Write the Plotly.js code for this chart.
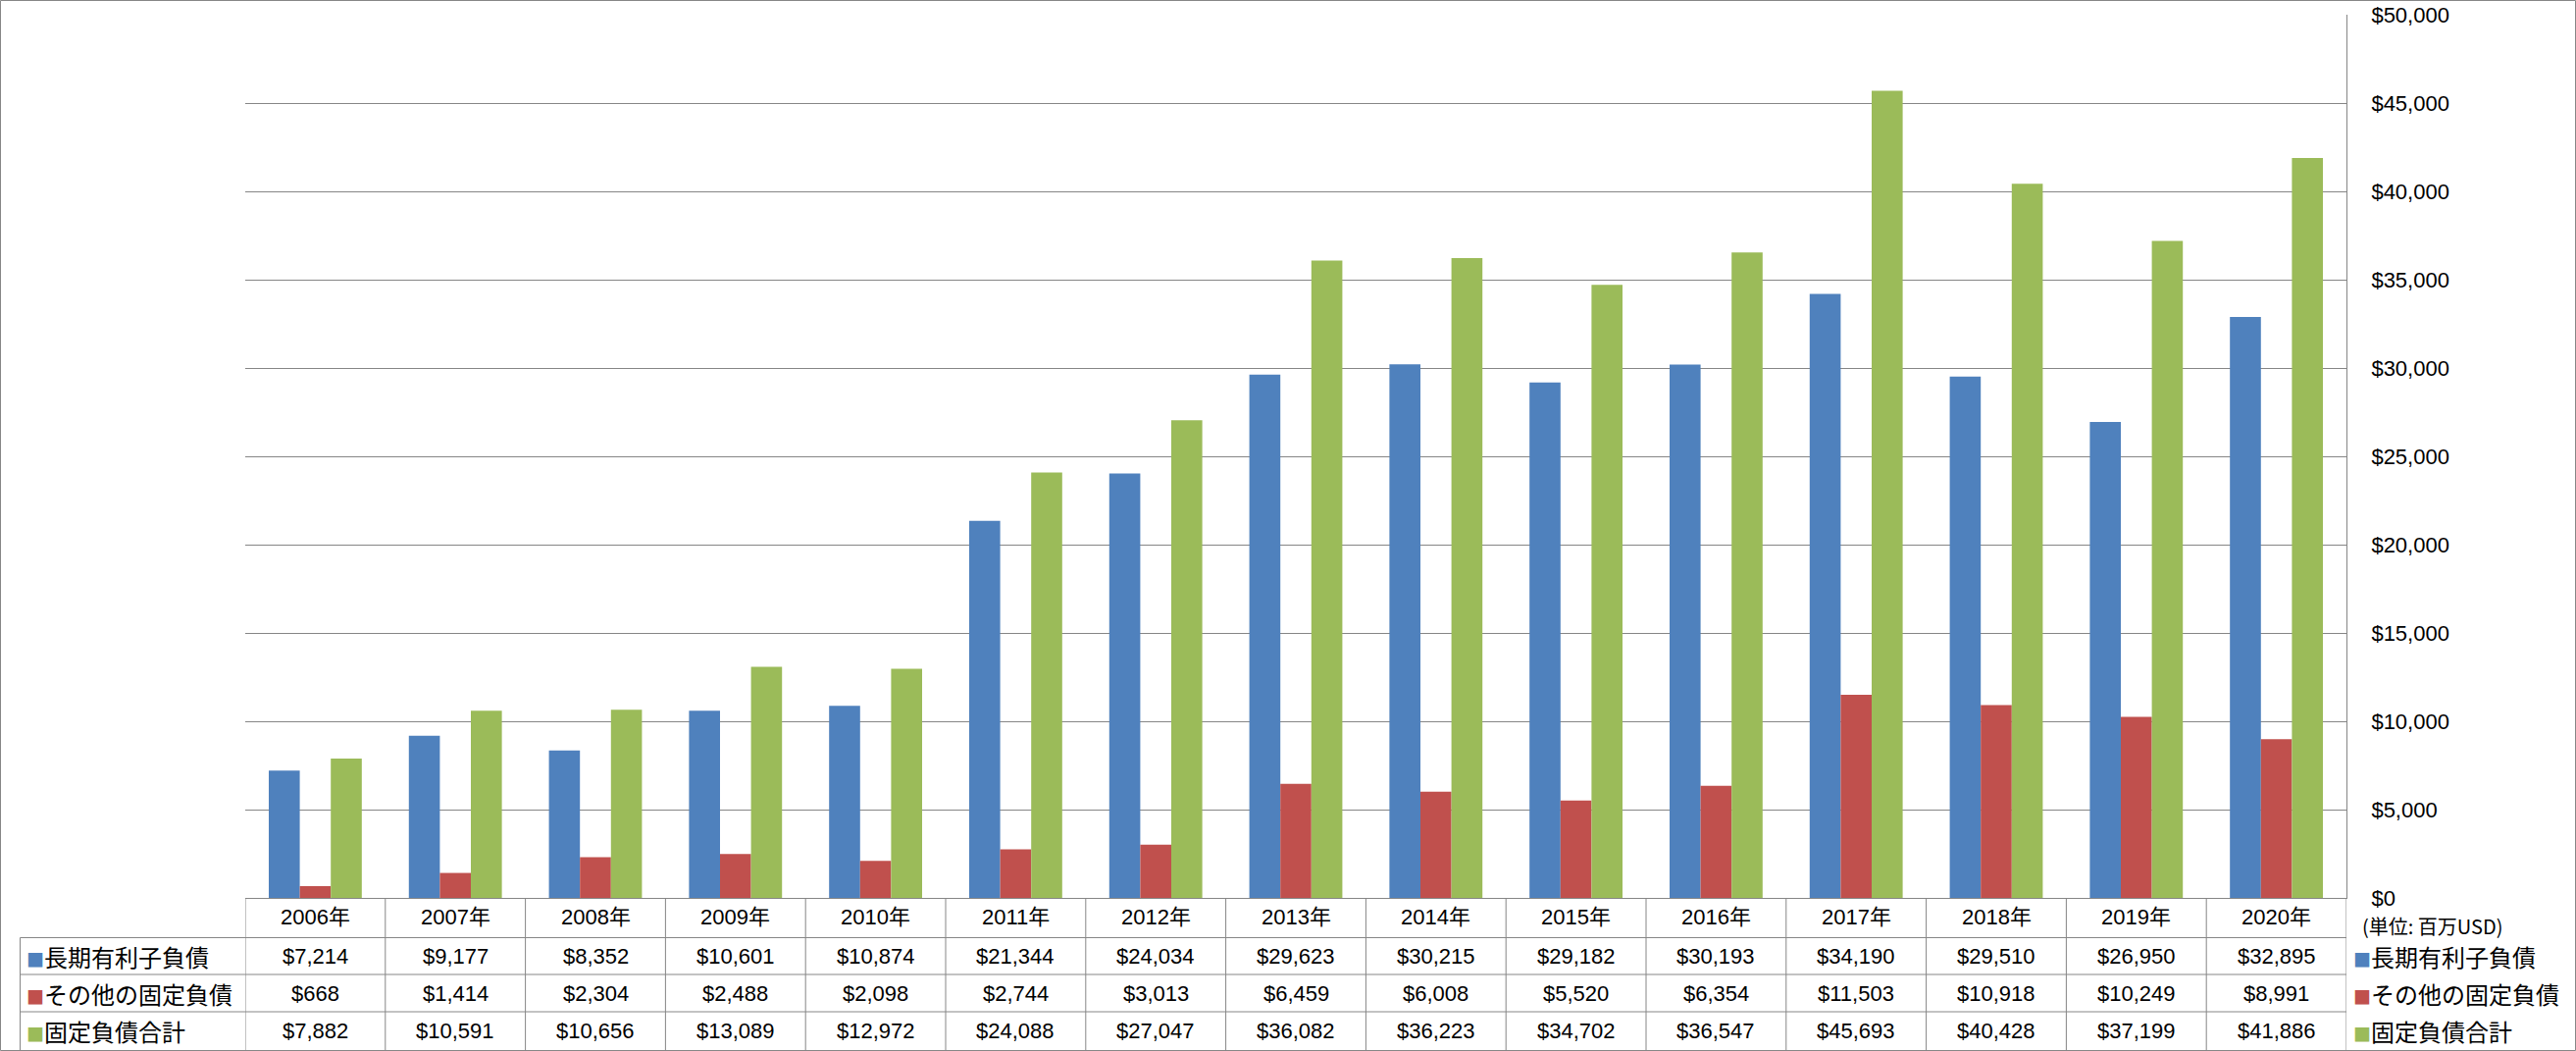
<!DOCTYPE html>
<html><head><meta charset="utf-8">
<script src="https://cdn.plot.ly/plotly-3.0.1.min.js"></script>
<style>html,body{margin:0;padding:0;background:#fff}</style>
</head><body><div id="chart" style="width:2626px;height:1071px"></div>
<script>
const years = ['2006年','2007年','2008年','2009年','2010年','2011年','2012年','2013年','2014年','2015年','2016年','2017年','2018年','2019年','2020年'];
const seriesNames = ['長期有利子負債','その他の固定負債','固定負債合計'];
const longTermDebt = [7214,9177,8352,10601,10874,21344,24034,29623,30215,29182,30193,34190,29510,26950,32895];
const otherFixed = [668,1414,2304,2488,2098,2744,3013,6459,6008,5520,6354,11503,10918,10249,8991];
const totalFixed = [7882,10591,10656,13089,12972,24088,27047,36082,36223,34702,36547,45693,40428,37199,41886];
const yTickVals = [0,5000,10000,15000,20000,25000,30000,35000,40000,45000,50000];
const unitLabel = '(単位: 百万USD)';

const colors = ['#4F81BD','#C0504D','#9BBB59'];
const series = [longTermDebt, otherFixed, totalFixed];
const W = 2626, H = 1071, L = 250, R = 234, T = 15, B = 156;
const PW = W - L - R, PH = H - T - B;
const px = x => (x - L) / PW;
const py = y => (H - B - y) / PH;
const gridCol = '#868686';
const numFont = "'Liberation Sans', 'Noto Sans CJK JP', sans-serif";
const jpFont = "'Noto Sans CJK JP', sans-serif";

const traces = series.map((vals, i) => ({
  type: 'bar', name: seriesNames[i], x: years, y: vals,
  marker: {color: colors[i], line: {width: 0}}, showlegend: false, hoverinfo: 'x+y'
}));

const shapes = [];
const annotations = [];
const lineStyle = {color: gridCol, width: 1};
// outer border
shapes.push({type: 'rect', xref: 'paper', yref: 'paper', x0: px(0.5), x1: px(W - 0.5), y0: py(0.5), y1: py(H - 0.5), line: lineStyle});
// table verticals at category boundaries
for (let i = 0; i <= years.length; i++) {
  shapes.push({type: 'line', xref: 'x', yref: 'paper', x0: i - 0.5, x1: i - 0.5, y0: 0, y1: py(H - 0.5), line: lineStyle});
}
// table left vertical
shapes.push({type: 'line', xref: 'paper', yref: 'paper', x0: px(20.5), x1: px(20.5), y0: py(955.5), y1: py(H - 0.5), line: lineStyle});
// horizontal row lines
[955.5, 993, 1031].forEach(yy => {
  shapes.push({type: 'line', xref: 'paper', yref: 'paper', x0: px(20.5), x1: 1, y0: py(yy), y1: py(yy), line: lineStyle});
});

const rowCenters = [974, 1012, 1050.5];
series.forEach((vals, s) => {
  annotations.push({xref: 'paper', yref: 'paper', x: px(25), y: py(rowCenters[s]), xanchor: 'left', yanchor: 'middle', showarrow: false,
    text: `<span style="color:${colors[s]};font-size:18px">■</span>${seriesNames[s]}`, font: {family: jpFont, size: 24, color: '#000'}});
  vals.forEach((v, i) => {
    annotations.push({xref: 'x', yref: 'paper', x: years[i], y: py(rowCenters[s]), xanchor: 'center', yanchor: 'middle', showarrow: false,
      text: '$' + v.toLocaleString('en-US'), font: {family: numFont, size: 22, color: '#000'}});
  });
  // right legend
  annotations.push({xref: 'paper', yref: 'paper', x: px(2397), y: py(rowCenters[s]), xanchor: 'left', yanchor: 'middle', showarrow: false,
    text: `<span style="color:${colors[s]};font-size:18px">■</span>${seriesNames[s]}`, font: {family: jpFont, size: 24, color: '#000'}});
});
// header labels
years.forEach(yr => {
  annotations.push({xref: 'x', yref: 'paper', x: yr, y: py(935), xanchor: 'center', yanchor: 'middle', showarrow: false,
    text: yr, font: {family: numFont, size: 22, color: '#000'}});
});
annotations.push({xref: 'paper', yref: 'paper', x: px(2406), y: py(943), xanchor: 'left', yanchor: 'middle', showarrow: false,
  text: unitLabel, font: {family: jpFont, size: 20, color: '#000'}});

const layout = {
  width: W, height: H, margin: {l: L, r: R, t: T, b: B, pad: 0},
  paper_bgcolor: '#fff', plot_bgcolor: '#fff',
  barmode: 'group', bargap: 0.336, bargroupgap: 0,
  showlegend: false,
  xaxis: {type: 'category', showticklabels: false, ticks: '', showgrid: false, showline: true, linecolor: gridCol, linewidth: 1, zeroline: false, range: [-0.5, years.length - 0.5], fixedrange: true},
  yaxis: {side: 'right', range: [0, 50000], tickvals: yTickVals, ticktext: yTickVals.map(v => '$' + v.toLocaleString('en-US')),
    showgrid: true, gridcolor: gridCol, gridwidth: 1, showline: true, linecolor: gridCol, linewidth: 1, zeroline: false, ticks: '',
    ticklabelstandoff: 20, tickfont: {family: "'Liberation Sans', sans-serif", size: 22, color: '#000'}, fixedrange: true},
  shapes: shapes, annotations: annotations
};
Plotly.newPlot('chart', traces, layout, {displayModeBar: false, staticPlot: true});
</script></body></html>
